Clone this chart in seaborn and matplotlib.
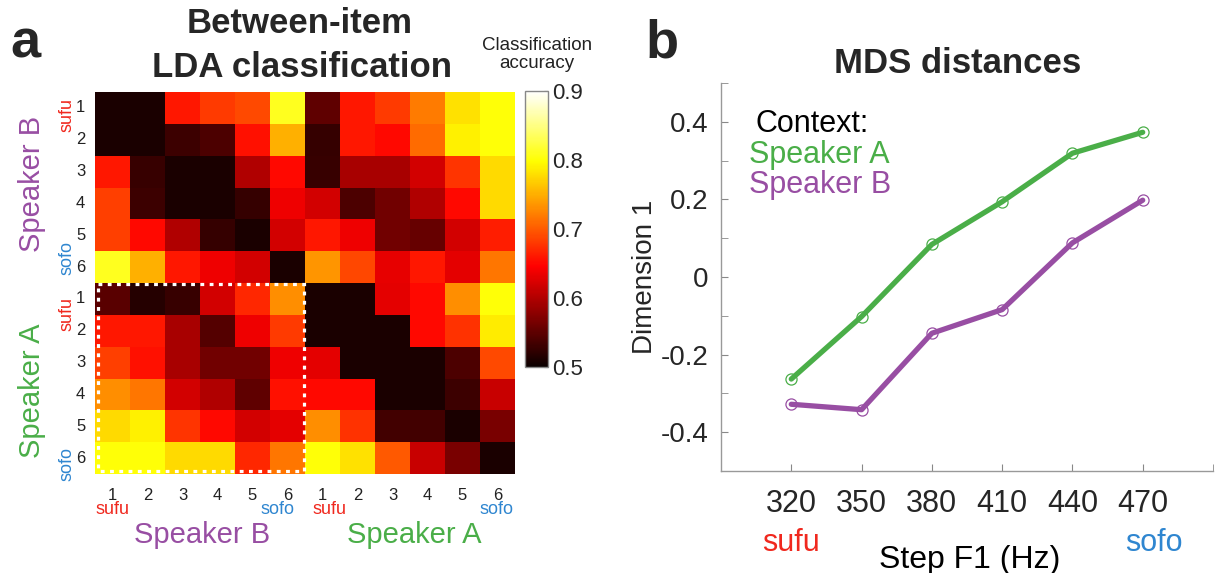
import numpy as np
import pandas as pd
import matplotlib
matplotlib.use("Agg")
import matplotlib.pyplot as plt
from matplotlib.patches import Rectangle
from matplotlib.ticker import MultipleLocator, FixedLocator
import seaborn as sns

# ---- panel a: between-item LDA classification accuracy (rows/cols: Speaker B 1-6, Speaker A 1-6)
acc = [
    [0.51, 0.51, 0.66, 0.68, 0.69, 0.81, 0.55, 0.66, 0.68, 0.72, 0.78, 0.80],
    [0.51, 0.51, 0.53, 0.54, 0.655, 0.75, 0.525, 0.66, 0.65, 0.71, 0.79, 0.80],
    [0.66, 0.527, 0.51, 0.51, 0.60, 0.65, 0.528, 0.594, 0.594, 0.62, 0.678, 0.776],
    [0.683, 0.53, 0.51, 0.51, 0.525, 0.636, 0.62, 0.54, 0.562, 0.60, 0.65, 0.776],
    [0.683, 0.65, 0.60, 0.525, 0.51, 0.62, 0.66, 0.636, 0.562, 0.556, 0.62, 0.664],
    [0.81, 0.75, 0.66, 0.636, 0.62, 0.51, 0.735, 0.688, 0.632, 0.66, 0.63, 0.716],
    [0.547, 0.517, 0.528, 0.62, 0.67, 0.73, 0.51, 0.51, 0.63, 0.65, 0.73, 0.80],
    [0.66, 0.66, 0.594, 0.544, 0.636, 0.68, 0.51, 0.51, 0.51, 0.65, 0.675, 0.786],
    [0.683, 0.655, 0.594, 0.562, 0.562, 0.636, 0.63, 0.51, 0.51, 0.51, 0.54, 0.69],
    [0.73, 0.716, 0.62, 0.60, 0.55, 0.655, 0.65, 0.65, 0.51, 0.51, 0.53, 0.613],
    [0.776, 0.79, 0.678, 0.65, 0.62, 0.63, 0.73, 0.675, 0.534, 0.534, 0.51, 0.566],
    [0.80, 0.80, 0.776, 0.776, 0.67, 0.716, 0.80, 0.78, 0.70, 0.613, 0.566, 0.51],
]
step_labels = ["1", "2", "3", "4", "5", "6"] * 2
cbar_ticks = [0.5, 0.6, 0.7, 0.8, 0.9]

# ---- panel b: MDS dimension 1
steps_hz = [320, 350, 380, 410, 440, 470]
dim1_speaker_a = [-0.263, -0.102, 0.084, 0.194, 0.319, 0.373]
dim1_speaker_b = [-0.328, -0.342, -0.145, -0.084, 0.088, 0.198]
y_ticks = [-0.4, -0.2, 0, 0.2, 0.4]
y_tick_labels = ["-0.4", "-0.2", "0", "0.2", "0.4"]

green = "#4aae48"
purple = "#984ea3"
red = "#f0281e"
blue = "#2f86d0"

sns.set_style("white")
plt.rcParams["font.family"] = ["Liberation Sans", "DejaVu Sans"]

fig = plt.figure(figsize=(12.17, 5.73), dpi=100)
W, H = 1217, 573

def box(x0, y0, x1, y1):
    # pixel box -> figure fraction
    return [x0 / W, 1 - y1 / H, (x1 - x0) / W, (y1 - y0) / H]

def ftext(x, y, s, **kw):
    # text placed in pixel coords from top-left
    return fig.text(x / W, 1 - y / H, s, **kw)

ax_hm = fig.add_axes(box(95, 92, 515, 474))
cax = fig.add_axes(box(525, 91, 548, 367))
ax_b = fig.add_axes(box(721, 83, 1213, 471))

df_acc = pd.DataFrame(acc)
sns.heatmap(df_acc, ax=ax_hm, cbar_ax=cax, cmap="hot", vmin=0.5, vmax=0.9,
            xticklabels=step_labels, yticklabels=step_labels)
ax_hm.tick_params(length=0, labelsize=12, labelcolor="#222")
ax_hm.tick_params(axis="y", pad=7, labelrotation=0)
ax_hm.tick_params(axis="x", pad=10, labelrotation=0)

# dotted white box around Speaker A rows x Speaker B cols
ax_hm.add_patch(Rectangle((0.08, 6.04), 5.9, 5.88, fill=False, ec="white",
                          lw=2.3, ls=(0, (1.2, 1.7)), clip_on=False))

# step-end labels and speaker names
side_kw = dict(fontsize=13, rotation=90, ha="center", va="center", clip_on=False)
ax_hm.text(-0.8, 0.72, "sufu", color=red, **side_kw)
ax_hm.text(-0.8, 5.2, "sofo", color=blue, **side_kw)
ax_hm.text(-0.8, 6.98, "sufu", color=red, **side_kw)
ax_hm.text(-0.8, 11.7, "sofo", color=blue, **side_kw)
ax_hm.text(-1.8, 2.88, "Speaker B", color=purple, fontsize=21, rotation=90,
           ha="center", va="center", clip_on=False)
ax_hm.text(-1.8, 9.37, "Speaker A", color=green, fontsize=21, rotation=90,
           ha="center", va="center", clip_on=False)
bot_kw = dict(fontsize=13, ha="center", va="baseline", clip_on=False)
ax_hm.text(0.5, 13.26, "sufu", color=red, **bot_kw)
ax_hm.text(5.21, 13.26, "sofo", color=blue, **bot_kw)
ax_hm.text(6.7, 13.26, "sufu", color=red, **bot_kw)
ax_hm.text(11.46, 13.26, "sofo", color=blue, **bot_kw)
ax_hm.text(3.06, 14.17, "Speaker B", color=purple, fontsize=21, ha="center",
           va="baseline", clip_on=False)
ax_hm.text(9.11, 14.17, "Speaker A", color=green, fontsize=21, ha="center",
           va="baseline", clip_on=False)

# colorbar styling
cbar = ax_hm.collections[0].colorbar
cbar.outline.set_edgecolor("#888")
cbar.outline.set_linewidth(1)
cbar.set_ticks(cbar_ticks)
cbar.ax.yaxis.set_minor_locator(MultipleLocator(0.05))
cax.tick_params(which="both", direction="in", length=3, color="#444",
                labelsize=16, pad=3)
ftext(537, 50, "Classification", fontsize=13.5, ha="center", va="baseline", color="#222")
ftext(537, 68, "accuracy", fontsize=13.5, ha="center", va="baseline", color="#222")

ftext(300, 33, "Between-item", fontsize=25, fontweight="bold", ha="center", va="baseline")
ftext(302, 77, "LDA classification", fontsize=25, fontweight="bold", ha="center", va="baseline")
ftext(10, 58, "a", fontsize=39, fontweight="bold", ha="left", va="baseline")
ftext(645, 58, "b", fontsize=39, fontweight="bold", ha="left", va="baseline")

# ---- panel b
for yvals, col in [(dim1_speaker_a, green), (dim1_speaker_b, purple)]:
    sns.lineplot(x=steps_hz, y=yvals, ax=ax_b, color=col, lw=3.8,
                 marker="o", markersize=8, markerfacecolor="none",
                 markeredgecolor=col, markeredgewidth=0.9)

ax_b.set_xlim(290, 500)
ax_b.set_ylim(-0.5, 0.5)
ax_b.set_xticks(steps_hz)
ax_b.set_xticklabels([str(s) for s in steps_hz])
ax_b.xaxis.set_minor_locator(FixedLocator([500]))
ax_b.set_yticks(y_ticks)
ax_b.set_yticklabels(y_tick_labels)
ax_b.yaxis.set_minor_locator(MultipleLocator(0.1))
ax_b.tick_params(which="both", direction="in", length=5, color="#888",
                 left=True, bottom=True)
ax_b.tick_params(axis="y", labelsize=20, pad=9)
ax_b.tick_params(axis="x", labelsize=22, pad=13)
for side in ["top", "right"]:
    ax_b.spines[side].set_visible(False)
for side in ["left", "bottom"]:
    ax_b.spines[side].set_color("#999")
    ax_b.spines[side].set_linewidth(1)

ftext(645, 277, "Dimension 1", fontsize=20, rotation=90, ha="center", va="center")
ftext(958, 72.7, "MDS distances", fontsize=25, fontweight="bold", ha="center", va="baseline")

ax_b.text(304.9, 0.375, "Context:", fontsize=22, color="black", ha="left", va="baseline")
ax_b.text(301.9, 0.294, "Speaker A", fontsize=22, color=green, ha="left", va="baseline")
ax_b.text(301.9, 0.2166, "Speaker B", fontsize=22, color=purple, ha="left", va="baseline")

ax_b.text(320.06, -0.707, "sufu", fontsize=22, color=red, ha="center", va="baseline", clip_on=False)
ax_b.text(474.8, -0.707, "sofo", fontsize=22, color=blue, ha="center", va="baseline", clip_on=False)
ax_b.text(396.2, -0.750, "Step F1 (Hz)", fontsize=23, color="black", ha="center",
          va="baseline", clip_on=False)

fig.savefig("out.png", dpi=100)
